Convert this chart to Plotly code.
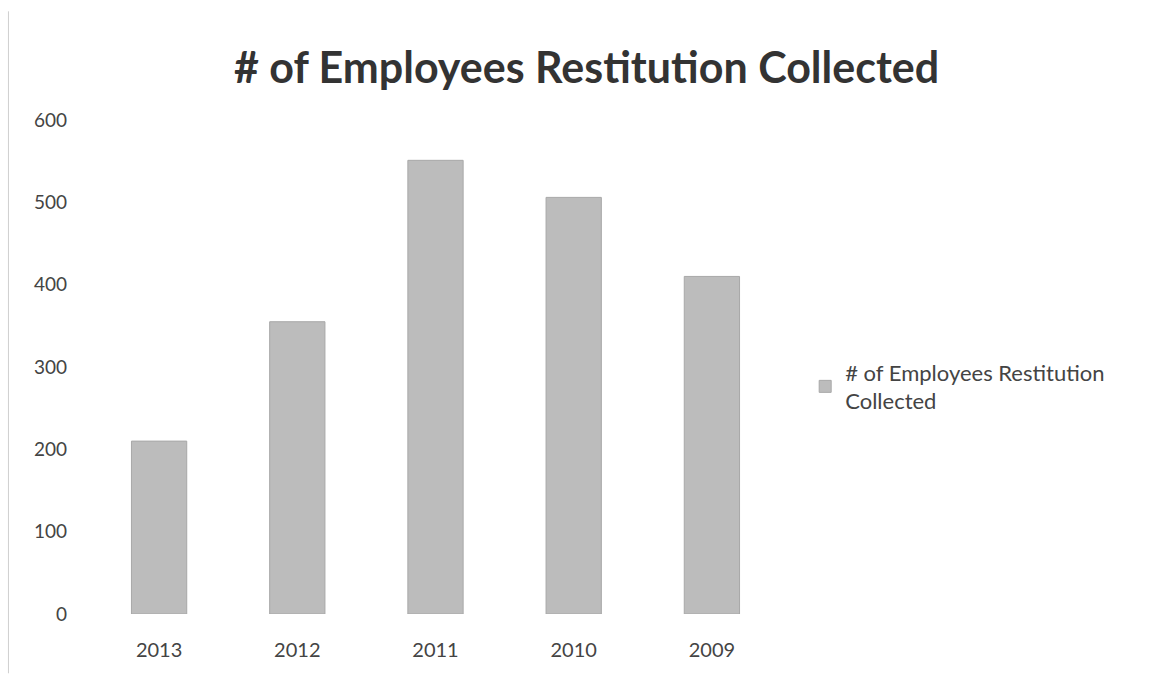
import plotly.graph_objects as go

years = ["2013", "2012", "2011", "2010", "2009"]
values = [210, 355, 551, 506, 410]
series_name = "# of Employees Restitution<br>Collected"
title_text = "# of Employees Restitution Collected"

fig = go.Figure()
fig.add_trace(go.Bar(
    x=years, y=values, name=series_name,
    marker=dict(color="#bcbcbc", line=dict(color="#a8a8a8", width=1)),
    showlegend=True,
))

font_family = "Lato, Open Sans, sans-serif"
fig.update_layout(
    width=1150, height=675,
    paper_bgcolor="white", plot_bgcolor="white",
    margin=dict(l=90, r=369, t=120, b=61),
    bargap=0.6,
    title=dict(text=title_text, x=0.51, xanchor="center", y=0.9, yanchor="middle",
               font=dict(family=font_family, size=43, color="#333333", weight="bold")),
    font=dict(family=font_family, color="#444444"),
    xaxis=dict(showgrid=False, showline=False, zeroline=False, ticks="",
               tickfont=dict(size=20, color="#444444"), ticklabelstandoff=22),
    yaxis=dict(range=[0, 600], tickvals=[0, 100, 200, 300, 400, 500, 600],
               showgrid=False, showline=False, zeroline=False, ticks="",
               tickfont=dict(size=19, color="#444444"), ticklabelstandoff=22),
    legend=dict(x=1.035, y=0.46, xanchor="left", yanchor="middle",
                font=dict(size=22, color="#444444"), itemwidth=30),
    shapes=[
        dict(type="line", xref="paper", yref="paper", x0=-0.118, x1=-0.118, y0=-0.12, y1=1.22,
             line=dict(color="#cfcfcf", width=1)),
    ],
)

fig.write_html("out.html")
